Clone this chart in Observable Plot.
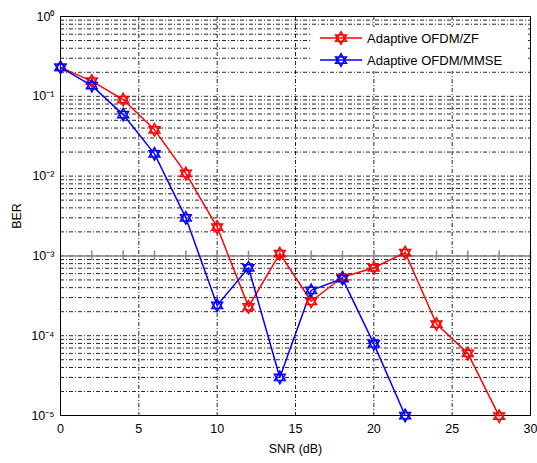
<!DOCTYPE html>
<html>
<head>
<meta charset="utf-8">
<script src="https://cdn.jsdelivr.net/npm/d3@7"></script>
<script src="https://cdn.jsdelivr.net/npm/@observablehq/plot@0.6"></script>
<style>
  html, body { margin: 0; padding: 0; background: #fff; }
  #chart { width: 537px; height: 463px; }
</style>
</head>
<body>
<div id="chart"></div>
<script>
// ---- Data ----
const snrZF = [0, 2, 4, 6, 8, 10, 12, 14, 16, 18, 20, 22, 24, 26, 28];
const berZF = [0.23, 0.155, 0.091, 0.038, 0.0108, 0.0023, 2.3e-4, 1.07e-3, 2.7e-4, 5.4e-4, 7.1e-4, 1.1e-3, 1.4e-4, 6.0e-5, 9.8e-6];
const snrMMSE = [0, 2, 4, 6, 8, 10, 12, 14, 16, 18, 20, 22];
const berMMSE = [0.23, 0.136, 0.059, 0.019, 0.0030, 2.4e-4, 7.1e-4, 3.0e-5, 3.7e-4, 5.2e-4, 7.9e-5, 1.0e-5];
const seriesNames = ["Adaptive OFDM/ZF", "Adaptive OFDM/MMSE"];
const seriesColors = ["#ff0000", "#0000ff"];
const xTicks = [0, 5, 10, 15, 20, 25, 30];
const yTicks = [1e-5, 1e-4, 1e-3, 1e-2, 1e-1, 1];
const yTickLabels = ["10\u207B\u2075", "10\u207B\u2074", "10\u207B\u00B3", "10\u207B\u00B2", "10\u207B\u00B9", "10\u2070"];
const refLevel = [1e-3];
const refTicks = [2, 4, 6, 8, 10, 12, 14, 16, 18, 20, 22, 24, 26, 28, 30];

const zf = snrZF.map((x, i) => ({x, y: berZF[i], s: seriesNames[0]}));
const mmse = snrMMSE.map((x, i) => ({x, y: berMMSE[i], s: seriesNames[1]}));

// minor log grid values
const yMinor = [];
for (let e = -5; e < 0; e++) for (let m = 2; m <= 9; m++) yMinor.push(m * Math.pow(10, e));

// hexagram (six-pointed star outline) symbol
const hexagram = {
  draw(ctx, size) {
    const r = Math.sqrt(size / Math.PI) * 1.25;
    for (const off of [-90, 90]) {
      for (let k = 0; k < 3; k++) {
        const a = (off + k * 120) * Math.PI / 180;
        const px = r * Math.cos(a), py = r * Math.sin(a);
        if (k === 0) ctx.moveTo(px, py); else ctx.lineTo(px, py);
      }
      ctx.closePath();
    }
  }
};

const gridDash = "4,2,1,2";

const plot = Plot.plot({
  width: 537,
  height: 463,
  marginLeft: 60,
  marginRight: 7,
  marginTop: 16,
  marginBottom: 48,
  style: {fontFamily: "Liberation Sans, Arial, sans-serif", fontSize: "12.5px", color: "#000", background: "#fff"},
  x: {domain: [0, 30], ticks: xTicks, tickSize: 0, tickPadding: 9, label: "SNR (dB)", labelAnchor: "center", labelOffset: 37, labelArrow: "none"},
  y: {type: "log", domain: [1e-5, 1], ticks: yTicks, tickFormat: d => yTickLabels[yTicks.indexOf(d)] ?? "", tickSize: 0, tickPadding: 6, label: "BER", labelAnchor: "center", labelOffset: 48, labelArrow: "none"},
  marks: [
    Plot.gridY(yMinor, {stroke: "#000", strokeOpacity: 0.85, strokeDasharray: gridDash, strokeWidth: 1}),
    Plot.gridY(yTicks, {stroke: "#000", strokeOpacity: 0.85, strokeDasharray: gridDash, strokeWidth: 1}),
    Plot.gridX(xTicks, {stroke: "#000", strokeOpacity: 0.85, strokeDasharray: gridDash, strokeWidth: 1}),
    Plot.ruleY(refLevel, {stroke: "#888", strokeWidth: 1.5}),
    Plot.ruleX(refTicks, {y1: refLevel[0] / 1.15, y2: refLevel[0] * 1.15, stroke: "#888", strokeWidth: 1.5}),
    Plot.frame({stroke: "#000"}),
    Plot.line(zf, {x: "x", y: "y", stroke: seriesColors[0], strokeWidth: 1.5}),
    Plot.line(mmse, {x: "x", y: "y", stroke: seriesColors[1], strokeWidth: 1.5}),
    Plot.dot(zf, {x: "x", y: "y", symbol: hexagram, r: 5, fill: "none", stroke: seriesColors[0], strokeWidth: 1.5}),
    Plot.dot(mmse, {x: "x", y: "y", symbol: hexagram, r: 5, fill: "none", stroke: seriesColors[1], strokeWidth: 1.5})
  ]
});

document.getElementById("chart").appendChild(plot);

// Legend inside the axes (top-right), like MATLAB
const svg = d3.select(plot);
const lg = svg.append("g")
  .attr("font-family", "Liberation Sans, Arial, sans-serif")
  .attr("font-size", 13)
  .attr("text-anchor", "start");
lg.append("rect").attr("x", 312).attr("y", 27).attr("width", 215).attr("height", 44)
  .style("fill", "#ffffff").style("stroke", "none");
seriesNames.forEach((name, i) => {
  const y = 38 + i * 22;
  lg.append("line").attr("x1", 320).attr("x2", 362).attr("y1", y).attr("y2", y)
    .attr("stroke", seriesColors[i]).attr("stroke-width", 1.5);
  const sym = d3.symbol(hexagram, Math.PI * 25);
  lg.append("path").attr("d", sym()).attr("transform", `translate(341,${y})`)
    .style("fill", "none").attr("stroke", seriesColors[i]).attr("stroke-width", 1.5);
  lg.append("text").attr("x", 367).attr("y", y).attr("dy", "0.35em")
    .style("fill", "#000").text(name);
});
</script>
</body>
</html>
